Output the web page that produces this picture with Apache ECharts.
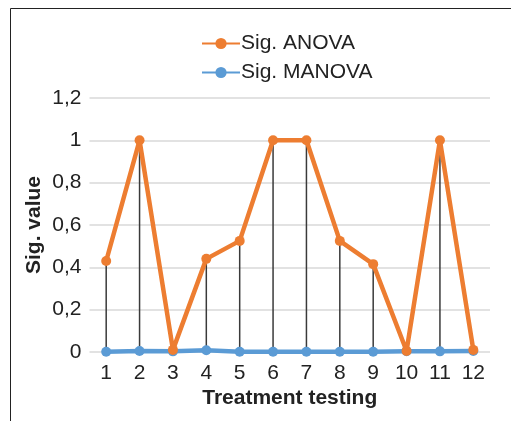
<!DOCTYPE html>
<html><head><meta charset="utf-8">
<script src="https://cdn.jsdelivr.net/npm/echarts@6/dist/echarts.min.js"></script>
<style>html,body{margin:0;padding:0;background:#fff}#c{width:511px;height:421px}</style>
</head><body><div id="c"></div>
<script>
const categories = ['1','2','3','4','5','6','7','8','9','10','11','12'];
const anova = [0.43, 1.0, 0.01, 0.44, 0.525, 1.0, 1.0, 0.525, 0.415, 0.005, 1.0, 0.01];
const manova = [0.001, 0.005, 0.003, 0.008, 0.001, 0.001, 0.001, 0.001, 0.001, 0.004, 0.003, 0.005];
const yTicks = [0, 0.2, 0.4, 0.6, 0.8, 1, 1.2];

const chart = echarts.init(document.getElementById('c'), null, {renderer:'canvas'});
const font = 'Liberation Sans, Arial, sans-serif';
chart.setOption({
  animation: false,
  textStyle: {fontFamily: font},
  graphic: [{type:'rect', shape:{x:10.5, y:8.5, width:700, height:700}, style:{fill:'none', stroke:'#222', lineWidth:1}, silent:true}],
  legend: {
    data: ['Sig. ANOVA', 'Sig. MANOVA'],
    orient: 'vertical', left: 196, top: 28,
    itemWidth: 38, itemHeight: 14, itemGap: 8,
    textStyle: {fontSize: 21, color: '#222', fontFamily: font, padding:[0,0,0,-4]}
  },
  grid: {left: 89.5, right: 21, top: 98, bottom: 69},
  xAxis: {
    type: 'category', data: categories,
    name: 'Treatment testing', nameLocation: 'middle', nameGap: 36, nameMoveOverlap: false,
    nameTextStyle: {fontSize: 21, fontWeight: 'bold', color: '#222', fontFamily: font},
    axisLine: {show: false}, axisTick: {show: false},
    axisLabel: {fontSize: 21, color: '#222', margin: 11, fontFamily: font}
  },
  yAxis: {
    type: 'value', min: 0, max: 1.2, interval: 0.2,
    name: 'Sig. value', nameLocation: 'middle', nameGap: 45, nameMoveOverlap: false,
    nameTextStyle: {fontSize: 21, fontWeight: 'bold', color: '#222', fontFamily: font},
    axisLabel: {fontSize: 21, color: '#222', margin: 8, fontFamily: font,
      formatter: v => { const t = yTicks.find(x => Math.abs(x - v) < 1e-9); return String(Math.round((t ?? v)*10)/10).replace('.', ','); }},
    splitLine: {lineStyle: {color: '#d9d9d9', width: 1.5}},
    axisLine: {show: false}, axisTick: {show: false}
  },
  series: [
    {name: 'drop', type: 'bar', data: anova, barWidth: 1.5, itemStyle: {color: '#3a3a3a'}, z: 1, silent: true},
    {name: 'Sig. MANOVA', type: 'line', data: manova, symbol: 'circle', symbolSize: 10,
     lineStyle: {color: '#5B9BD5', width: 4.5}, itemStyle: {color: '#5B9BD5'}, z: 2},
    {name: 'Sig. ANOVA', type: 'line', data: anova, symbol: 'circle', symbolSize: 10,
     lineStyle: {color: '#ED7D31', width: 4.5}, itemStyle: {color: '#ED7D31'}, z: 3}
  ]
});
</script></body></html>
